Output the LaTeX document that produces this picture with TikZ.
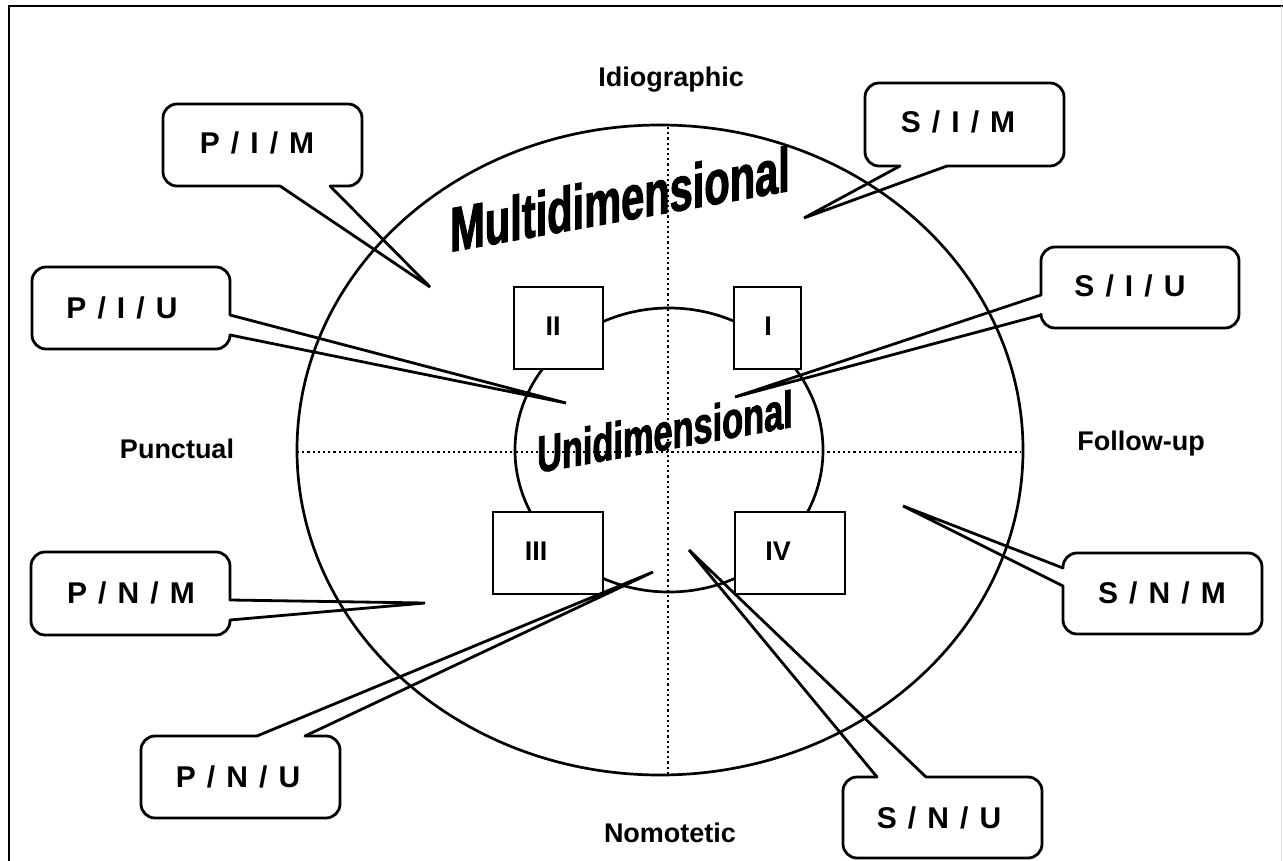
\documentclass[tikz,border=0pt]{standalone}
\usepackage{fontspec}
\setmainfont{Liberation Sans}
\newfontfamily\narrowfont{Liberation Sans}[FakeStretch=0.66,FakeBold=1.6]
\newcommand\slashsep{\hspace{0.37em}/\hspace{0.37em}}
\begin{document}
\begin{tikzpicture}[x=1pt,y=-1pt,
  lbl/.style={font=\fontsize{27}{30}\selectfont\bfseries, inner sep=0pt, anchor=base},
  tag/.style={font=\fontsize{30}{33}\selectfont\bfseries, inner sep=0pt, anchor=base},
  bubble/.style={line width=2.8pt, rounded corners=14pt, line cap=round, line join=round},
  tail/.style={line width=2.8pt, line cap=round, line join=miter, miter limit=6},
  ring/.style={line width=2.7pt},
  axis/.style={line width=2.6pt, dash pattern=on 2.2pt off 3pt},
  quad/.style={draw, fill=white, line width=2.8pt, inner sep=0pt},
  warp/.style={inner sep=0pt, anchor=base west, yslant=0.18}
]
\useasboundingbox (0,0) rectangle (1283,861);

% page frame
\draw[line width=2pt] (9,861) -- (9,6) -- (1283,6);
\draw[line width=1.2pt, black!12] (1281.5,6) -- (1281.5,861);

% axes
\draw[axis] (297,452) -- (1021,452);
\draw[axis] (668,127) -- (668,776);

% outer and inner rings
\draw[ring] (660,450) ellipse [x radius=363pt, y radius=325pt];
\draw[ring] (669,450) ellipse [x radius=154pt, y radius=142pt];

% quadrant boxes
\node[quad, minimum width=89pt, minimum height=82pt] (q2) at (558.5,328) {};
\node[quad, minimum width=67pt, minimum height=82pt] (q1) at (767.5,328) {};
\node[quad, minimum width=110pt, minimum height=82pt] (q3) at (548,553) {};
\node[quad, minimum width=110pt, minimum height=82pt] (q4) at (790,553) {};
\node[lbl] (q2t) at (553,335) {II};
\node[lbl] (q1t) at (768,335) {I};
\node[lbl] (q3t) at (536,560) {III};
\node[lbl] (q4t) at (778,560) {IV};

% axis labels
\node[lbl] (idio) at (671,87) {Idiographic};
\node[lbl] (nomo) at (670,842) {Nomotetic};
\node[lbl] (punc) at (177,458) {Punctual};
\node[lbl] (foll) at (1141,450) {Follow-up};

% slanted ring titles
\node[warp, font=\fontsize{63}{66}\selectfont\narrowfont\bfseries] (multi) at (450,252) {Multidimensional};
\node[warp, font=\fontsize{52}{56}\selectfont\narrowfont\bfseries] (uni) at (537,473) {Unidimensional};

% callouts
\coordinate (pim-tip) at (430,287);
\draw[bubble] (330,186) -- (362,186) -- (362,104) -- (163,104) -- (163,186) -- (280,186);
\draw[tail] (330,186) -- (pim-tip) -- (280,186);
\node[tag] (pim) at (257,154) {P\slashsep I\slashsep M};

\coordinate (sim-tip) at (804,218);
\draw[bubble] (947,166) -- (1064,166) -- (1064,83) -- (865,83) -- (865,166) -- (900,166);
\draw[tail] (947,166) -- (sim-tip) -- (900,166);
\node[tag] (sim) at (958,133) {S\slashsep I\slashsep M};

\coordinate (piu-tip) at (566,403);
\draw[bubble] (230,315) -- (230,267) -- (32,267) -- (32,349) -- (230,349) -- (230,335);
\draw[tail] (230,315) -- (piu-tip) -- (230,335);
\node[tag] (piu) at (122,318) {P\slashsep I\slashsep U};

\coordinate (siu-tip) at (735,397);
\draw[bubble] (1041,295) -- (1041,247) -- (1239,247) -- (1239,328) -- (1041,328) -- (1041,315);
\draw[tail] (1041,295) -- (siu-tip) -- (1041,315);
\node[tag] (siu) at (1130,297) {S\slashsep I\slashsep U};

\coordinate (pnm-tip) at (425,603);
\draw[bubble] (230,600) -- (230,552) -- (31,552) -- (31,635) -- (230,635) -- (230,620);
\draw[tail] (230,600) -- (pnm-tip) -- (230,620);
\node[tag] (pnm) at (131,603) {P\slashsep N\slashsep M};

\coordinate (pnu-tip) at (653,572);
\draw[bubble] (257,736) -- (141,736) -- (141,818) -- (340,818) -- (340,736) -- (305,736);
\draw[tail] (257,736) -- (pnu-tip) -- (305,736);
\node[tag] (pnu) at (238,787) {P\slashsep N\slashsep U};

\coordinate (snm-tip) at (903,506);
\draw[bubble] (1063,568) -- (1063,553) -- (1262,553) -- (1262,634) -- (1063,634) -- (1063,586);
\draw[tail] (1063,568) -- (snm-tip) -- (1063,586);
\node[tag] (snm) at (1162,603) {S\slashsep N\slashsep M};

\coordinate (snu-tip) at (689,550);
\draw[bubble] (877,777) -- (843,777) -- (843,858) -- (1042,858) -- (1042,777) -- (926,777);
\draw[tail] (877,777) -- (snu-tip) -- (926,777);
\node[tag] (snu) at (939,828) {S\slashsep N\slashsep U};
\end{tikzpicture}
\end{document}
